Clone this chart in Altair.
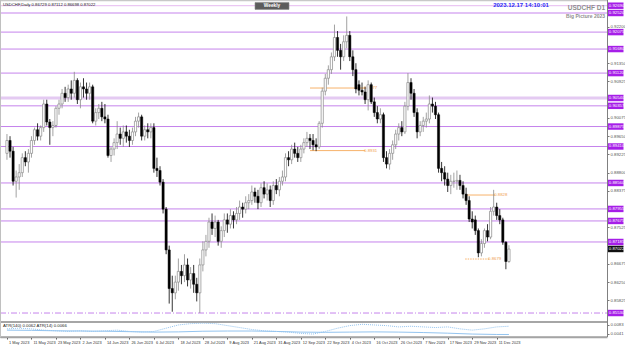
import altair as alt
import pandas as pd

# ---------------- data ----------------
date_tick_idx = [0, 8, 16, 24, 32, 40, 48, 56, 64, 72, 80, 88, 96, 104, 112, 120, 128, 136, 144, 152, 160]
date_tick_labels = ["1 May 2023", "11 May 2023", "23 May 2023", "2 Jun 2023", "14 Jun 2023", "26 Jun 2023",
                    "6 Jul 2023", "18 Jul 2023", "28 Jul 2023", "9 Aug 2023", "21 Aug 2023", "31 Aug 2023",
                    "12 Sep 2023", "22 Sep 2023", "4 Oct 2023", "16 Oct 2023", "26 Oct 2023", "7 Nov 2023",
                    "17 Nov 2023", "29 Nov 2023", "11 Dec 2023"]

opens = [
    .8925, .8955, .8930, .8860, .8870, .8880, .8915, .8905, .8925, .8955,
    .8980, .8965, .8985, .9040, .8998, .8985, .8990, .9030, .9040, .9065,
    .9055, .9075, .9065, .9095, .9050, .9080, .9075, .9065, .9080, .9000,
    .9020, .9030, .9010, .9005, .8920, .8935, .8950, .8970, .8960, .8975,
    .8965, .8955, .8975, .9000, .9010, .8965, .8980, .8975, .8985, .8890,
    .8885, .8858, .8795, .8700, .8610, .8600, .8625, .8650, .8640, .8665,
    .8630, .8645, .8620, .8600, .8665, .8700, .8720, .8765, .8750, .8765,
    .8720, .8745, .8770, .8760, .8780, .8770, .8785, .8800, .8795, .8810,
    .8815, .8835, .8825, .8810, .8845, .8830, .8840, .8815, .8850, .8840,
    .8860, .8870, .8915, .8910, .8935, .8925, .8915, .8935, .8950, .8960,
    .8955, .8945, .8940, .8995, .9070, .9100, .9120, .9150, .9195, .9165,
    .9150, .9185, .9200, .9150, .9120, .9085, .9072, .9068, .9050, .9085,
    .9045, .9020, .9005, .9015, .8915, .8900, .8925, .8945, .8970, .8985,
    .8975, .9035, .9090, .9065, .9020, .8975, .8990, .9000, .9005, .9040,
    .9035, .9015, .8890, .8880, .8865, .8850, .8860, .8860, .8862, .8850,
    .8830, .8815, .8772, .8770, .8745, .8693, .8715, .8745, .8730, .8790,
    .8800, .8780, .8770, .8718, .8673]
highs = [
    .8970, .8965, .8940, .8885, .8900, .8925, .8930, .8935, .8965, .8985,
    .8995, .8990, .9050, .9050, .9005, .9000, .9035, .9050, .9075, .9080,
    .9085, .9095, .9115, .9100, .9090, .9100, .9090, .9090, .9085, .9030,
    .9040, .9045, .9040, .9015, .8940, .8960, .9000, .8985, .8990, .8990,
    .8980, .8985, .9010, .9020, .9015, .8990, .8995, .8995, .8995, .8915,
    .8895, .8865, .8800, .8710, .8640, .8640, .8680, .8665, .8690, .8680,
    .8660, .8665, .8635, .8680, .8720, .8735, .8775, .8785, .8780, .8770,
    .8755, .8785, .8785, .8795, .8790, .8800, .8815, .8810, .8825, .8830,
    .8850, .8845, .8840, .8855, .8860, .8855, .8850, .8860, .8865, .8870,
    .8885, .8925, .8930, .8945, .8950, .8940, .8945, .8960, .8975, .8970,
    .8970, .8960, .9000, .9078, .9110, .9130, .9160, .9225, .9210, .9180,
    .9200, .9244, .9210, .9165, .9135, .9095, .9090, .9080, .9095, .9090,
    .9055, .9035, .9030, .9020, .8930, .8935, .8955, .8980, .8995, .9000,
    .9045, .9112, .9100, .9075, .9030, .9000, .9010, .9020, .9060, .9055,
    .9045, .9020, .8905, .8895, .8880, .8875, .8880, .8885, .8875, .8860,
    .8845, .8825, .8790, .8780, .8750, .8725, .8750, .8760, .8800, .8840,
    .8810, .8795, .8775, .8720, .8711]
lows = [
    .8910, .8915, .8850, .8822, .8840, .8870, .8895, .8880, .8915, .8945,
    .8955, .8955, .8975, .8990, .8945, .8965, .8985, .9015, .9030, .9045,
    .9045, .9050, .9055, .9040, .9030, .9055, .9050, .9050, .8995, .8990,
    .9005, .9000, .8995, .8915, .8905, .8920, .8935, .8945, .8940, .8950,
    .8940, .8945, .8965, .8985, .8955, .8955, .8960, .8960, .8880, .8870,
    .8850, .8785, .8690, .8575, .8556, .8585, .8605, .8620, .8625, .8615,
    .8610, .8600, .8580, .8553, .8650, .8685, .8705, .8735, .8730, .8710,
    .8705, .8730, .8740, .8750, .8750, .8760, .8770, .8775, .8785, .8795,
    .8805, .8810, .8795, .8800, .8820, .8815, .8800, .8805, .8830, .8825,
    .8850, .8860, .8895, .8900, .8915, .8905, .8905, .8925, .8940, .8935,
    .8932, .8930, .8935, .8985, .9060, .9085, .9110, .9140, .9150, .9120,
    .9140, .9170, .9140, .9105, .9065, .9060, .9060, .9040, .9025, .9040,
    .9010, .8995, .8995, .8905, .8890, .8887, .8910, .8935, .8955, .8965,
    .8970, .9025, .9050, .9010, .8960, .8965, .8975, .8985, .8995, .9020,
    .9005, .8880, .8860, .8850, .8835, .8830, .8845, .8840, .8840, .8820,
    .8805, .8765, .8750, .8735, .8683, .8685, .8705, .8720, .8725, .8780,
    .8770, .8760, .8712, .8655, .8670]
closes = [
    .8955, .8930, .8860, .8870, .8880, .8915, .8905, .8925, .8955, .8980,
    .8965, .8985, .9040, .8998, .8985, .8990, .9030, .9040, .9065, .9055,
    .9075, .9065, .9095, .9050, .9080, .9075, .9065, .9080, .9000, .9020,
    .9030, .9010, .9005, .8920, .8935, .8950, .8970, .8960, .8975, .8965,
    .8955, .8975, .9000, .9010, .8965, .8980, .8975, .8985, .8890, .8885,
    .8858, .8795, .8700, .8610, .8600, .8625, .8650, .8640, .8665, .8630,
    .8645, .8620, .8600, .8665, .8700, .8720, .8765, .8750, .8765, .8720,
    .8745, .8770, .8760, .8780, .8770, .8785, .8800, .8795, .8810, .8815,
    .8835, .8825, .8810, .8845, .8830, .8840, .8815, .8850, .8840, .8860,
    .8870, .8915, .8910, .8935, .8925, .8915, .8935, .8950, .8960, .8955,
    .8945, .8940, .8995, .9070, .9100, .9120, .9150, .9195, .9165, .9150,
    .9185, .9200, .9150, .9120, .9075, .9072, .9068, .9050, .9085, .9045,
    .9020, .9005, .9015, .8915, .8900, .8925, .8945, .8970, .8985, .8975,
    .9035, .9090, .9065, .9020, .8975, .8990, .9000, .9005, .9040, .9035,
    .9015, .8890, .8880, .8865, .8850, .8860, .8860, .8862, .8850, .8830,
    .8815, .8772, .8765, .8745, .8693, .8715, .8745, .8730, .8790, .8800,
    .8780, .8770, .8718, .8673, .8702]

level_prices = [0.92690, 0.92520, 0.92075, 0.91680, 0.91120, 0.90540, 0.90357, 0.89875,
                0.89410, 0.88560, 0.87955, 0.87675, 0.87185, 0.85530]
level_kinds = ["light", "normal", "normal", "normal", "normal", "thick", "normal", "normal",
               "normal", "normal", "normal", "normal", "normal", "dashdot"]

price_ticks = [0.92200, 0.91350, 0.90925, 0.90075, 0.89650, 0.89225,
               0.88800, 0.88375, 0.87525, 0.86675, 0.86250, 0.85825]

current_price = [0.87022]

fib_start = [99, 99, 150, 149.7]
fib_end = [117, 117, 159.5, 157.5]
fib_price = [0.90772, 0.89314, 0.88279, 0.86788]
fib_text = ["0.9077", "0.8931", "0.8828", "0.8679"]
fib_dash = ["solid", "solid", "solid", "dot"]

atr14_idx = list(range(0, 165, 4))
atr14_vals = [0.0063, 0.0066, 0.0063, 0.0057, 0.0054, 0.0051, 0.0054, 0.0051, 0.0054, 0.0057,
              0.0051, 0.0048, 0.0051, 0.0066, 0.0081, 0.0087, 0.0089, 0.0087, 0.0078, 0.0069,
              0.0060, 0.0054, 0.0051, 0.0048, 0.0042, 0.0039, 0.0051, 0.0066, 0.0078, 0.0084,
              0.0081, 0.0078, 0.0072, 0.0075, 0.0072, 0.0069, 0.0072, 0.0063, 0.0057, 0.0063,
              0.0072, 0.0075]
atr140_idx = list(range(0, 161, 8)) + [164]
atr140_vals = [0.0057, 0.0056, 0.0054, 0.0053, 0.0052, 0.0050, 0.0048, 0.0049, 0.0052, 0.0053,
               0.0053, 0.0051, 0.0048, 0.0047, 0.0048, 0.0049, 0.0048, 0.0046, 0.0043, 0.0039,
               0.0037, 0.0037]
atr_ticks = [0.0083, 0.0041]

# ---------------- frames ----------------
bars = pd.DataFrame({"i": list(range(len(opens))), "o": opens, "h": highs, "l": lows, "c": closes})
levels = pd.DataFrame({"price": level_prices, "kind": level_kinds})
fibs = pd.DataFrame({"s": fib_start, "e": fib_end, "p": fib_price, "t": fib_text, "d": fib_dash})
atr14 = pd.DataFrame({"i": atr14_idx, "v": atr14_vals})
atr140 = pd.DataFrame({"i": atr140_idx, "v": atr140_vals})
cur = pd.DataFrame({"price": current_price})
one = pd.DataFrame({"a": [0]})

FONT = "Liberation Sans"
LEVEL = "#c583ec"
xscale = alt.Scale(domain=[-0.643, 194.4], nice=False, zero=False)
pscale = alt.Scale(domain=[0.85344, 0.92823], range=[321, 0], nice=False, zero=False)
ascale = alt.Scale(domain=[0.0030, 0.0090], range=[336, 323], nice=False, zero=False)

label_arr = "[" + ",".join("'" + s + "'" for s in date_tick_labels) + "]"
idx_arr = "[" + ",".join(str(v) for v in date_tick_idx) + "]"
xaxis = alt.Axis(values=date_tick_idx, labelExpr=label_arr + "[indexof(" + idx_arr + ", datum.value)]",
                 labelAlign="left", labelFontSize=3.9, labelFont=FONT, labelColor="#333333",
                 labelOffset=1.5, tickSize=2, tickColor="#555555", labelPadding=1.5,
                 domainColor="#a0a0a0", domainWidth=1.5, grid=False, title=None,
                 labelOverlap=False, labelFlush=False)
paxis = alt.Axis(orient="right", values=price_ticks, format=".5f", labelFontSize=4.3, labelFont=FONT,
                 labelColor="#555555", tickSize=2, tickColor="#777777", domain=False, grid=False,
                 title=None, labelPadding=1, labelOverlap=False, labelFlush=False)


def X(field):
    return alt.X(field, scale=xscale, axis=xaxis)


# horizontal levels (x spans the plot through value channels)
def level_layer(kind, color, width, dash=None, axis=None):
    kw = dict(color=color, strokeWidth=width)
    if dash:
        kw["strokeDash"] = dash
    return alt.Chart(levels).transform_filter("datum.kind == '" + kind + "'").mark_rule(**kw).encode(
        x=alt.value(0), x2=alt.value(607), y=alt.Y("price:Q", scale=pscale, axis=axis))


lv_thick = level_layer("thick", "#e4caf2", 3)
lv_light = level_layer("light", "#e6b9f0", 1)
lv_normal = level_layer("normal", LEVEL, 1, axis=paxis)
lv_dd = level_layer("dashdot", LEVEL, 1, dash=[6, 2, 1, 2])

# tags on right
tags = alt.Chart(levels).transform_calculate(
    yt="datum.price + 0.00075", yb="datum.price - 0.00075").mark_rect(color="#a61ee8").encode(
    x=alt.value(608), x2=alt.value(623.5),
    y=alt.Y("yt:Q", scale=pscale, axis=None), y2="yb:Q")
tag_txt = alt.Chart(levels).mark_text(align="left", baseline="middle", fontSize=4.3, font=FONT,
                                      color="white").encode(
    x=alt.value(608.8), y=alt.Y("price:Q", scale=pscale, axis=None),
    text=alt.Text("price:Q", format=".5f"))
cur_tag = alt.Chart(cur).transform_calculate(
    yt="datum.price + 0.00075", yb="datum.price - 0.00075").mark_rect(color="#111111").encode(
    x=alt.value(608), x2=alt.value(623.5),
    y=alt.Y("yt:Q", scale=pscale, axis=None), y2="yb:Q")
cur_txt = alt.Chart(cur).mark_text(align="left", baseline="middle", fontSize=4.3, font=FONT,
                                   color="white").encode(
    x=alt.value(608.8), y=alt.Y("price:Q", scale=pscale, axis=None),
    text=alt.Text("price:Q", format=".5f"))

# orange levels
fib_solid = alt.Chart(fibs).transform_filter("datum.d == 'solid'").mark_rule(
    color="#f7b26b", strokeWidth=1).encode(
    x=X("s:Q"), x2="e:Q", y=alt.Y("p:Q", scale=pscale, axis=None))
fib_dot = alt.Chart(fibs).transform_filter("datum.d == 'dot'").mark_rule(
    color="#f7b26b", strokeWidth=1, strokeDash=[1.5, 1]).encode(
    x=X("s:Q"), x2="e:Q", y=alt.Y("p:Q", scale=pscale, axis=None))
fib_txt = alt.Chart(fibs).mark_text(align="left", baseline="middle", fontSize=4.3, font=FONT,
                                    color="#f0a050", dx=-1).encode(
    x=X("e:Q"), y=alt.Y("p:Q", scale=pscale, axis=None), text="t:N")

# candles
wick_up = alt.Chart(bars).transform_filter("datum.c >= datum.o").mark_rule(
    color="#8a8a8a", strokeWidth=0.8).encode(
    x=X("i:Q"), y=alt.Y("l:Q", scale=pscale, axis=None), y2="h:Q")
wick_dn = alt.Chart(bars).transform_filter("datum.c < datum.o").mark_rule(
    color="#000000", strokeWidth=0.8).encode(
    x=X("i:Q"), y=alt.Y("l:Q", scale=pscale, axis=None), y2="h:Q")
body_up = alt.Chart(bars).transform_filter("datum.c >= datum.o").mark_bar(
    size=2.2, fill="white", stroke="#8a8a8a", strokeWidth=0.7).encode(
    x=X("i:Q"), y=alt.Y("o:Q", scale=pscale, axis=None), y2="c:Q")
body_dn = alt.Chart(bars).transform_filter("datum.c < datum.o").mark_bar(
    size=2.2, fill="black", stroke="black", strokeWidth=0.5).encode(
    x=X("i:Q"), y=alt.Y("o:Q", scale=pscale, axis=None), y2="c:Q")

# indicator panel
atr_axis = alt.Axis(orient="right", values=atr_ticks, format=".4f", labelFontSize=4.3, labelFont=FONT,
                    labelColor="#555555", tickSize=2, tickColor="#777777", domain=False, grid=False,
                    title=None, labelPadding=1, labelOverlap=False, labelFlush=False)
atr_slow = alt.Chart(atr140).mark_line(color="#94c4ef", strokeWidth=1).encode(
    x=X("i:Q"), y=alt.Y("v:Q", scale=ascale, axis=atr_axis))
atr_fast = alt.Chart(atr14).mark_line(color="#94c4ef", strokeWidth=1, strokeDash=[1, 1]).encode(
    x=X("i:Q"), y=alt.Y("v:Q", scale=ascale, axis=None))
atr_txt = alt.Chart(one).mark_text(align="left", baseline="middle", fontSize=4.3, font=FONT,
                                   color="#222222", text="ATR(140) 0.0062  ATR(14) 0.0066").encode(
    x=alt.value(3), y=alt.value(326))

# frame lines
sep = alt.Chart(one).mark_rule(color="#a6a6a6", strokeWidth=2).encode(
    x=alt.value(0), x2=alt.value(607), y=alt.value(322))
bottomline = alt.Chart(one).mark_rule(color="#a6a6a6", strokeWidth=1.5).encode(
    x=alt.value(0), x2=alt.value(607), y=alt.value(337))
topline = alt.Chart(one).mark_rule(color="#c8c8c8", strokeWidth=1.5).encode(
    x=alt.value(0), x2=alt.value(607), y=alt.value(0.5))
rightline = alt.Chart(one).mark_rule(color="#808080", strokeWidth=1).encode(
    x=alt.value(607.5), y=alt.value(0), y2=alt.value(337))
leftline = alt.Chart(one).mark_rule(color="#c0c0c0", strokeWidth=1).encode(
    x=alt.value(0.5), y=alt.value(0), y2=alt.value(337))

# header texts
ticker = alt.Chart(one).mark_text(align="left", baseline="middle", fontSize=4.2, font=FONT,
                                  color="#222222",
                                  text="USDCHF,Daily  0.86729 0.87112 0.86698 0.87022").encode(
    x=alt.value(3), y=alt.value(4.8))
btn = alt.Chart(one).mark_rect(fill="#5c5c5c", stroke="#8a8a8a", strokeWidth=0.6).encode(
    x=alt.value(255), x2=alt.value(289), y=alt.value(2.6), y2=alt.value(9.4))
btn_txt = alt.Chart(one).mark_text(align="center", baseline="middle", fontSize=4.8, font=FONT,
                                   fontWeight="bold", color="white", text="Weekly").encode(
    x=alt.value(272), y=alt.value(6.1))
stamp = alt.Chart(one).mark_text(align="center", baseline="middle", fontSize=6, font=FONT,
                                 fontWeight="bold", color="#2c2cf5", text="2023.12.17 14:10:01").encode(
    x=alt.value(521), y=alt.value(5.2))
sym = alt.Chart(one).mark_text(align="right", baseline="middle", fontSize=6.5, font=FONT,
                               fontWeight="bold", color="#8f8f8f", text="USDCHF D1").encode(
    x=alt.value(605), y=alt.value(8.3))
sub = alt.Chart(one).mark_text(align="right", baseline="middle", fontSize=5, font=FONT,
                               fontWeight="bold", color="#8f8f8f", text="Big Picture 2023").encode(
    x=alt.value(605), y=alt.value(16))

chart = alt.layer(
    topline, lv_thick, lv_light, lv_normal, lv_dd,
    fib_solid, fib_dot, fib_txt,
    wick_up, wick_dn, body_up, body_dn,
    sep, bottomline, atr_slow, atr_fast, atr_txt,
    rightline, leftline,
    tags, tag_txt, cur_tag, cur_txt,
    ticker, btn, btn_txt, stamp, sym, sub,
).resolve_scale(y="independent").properties(
    width=607, height=337, autosize="none",
    padding={"left": 0, "top": 0, "right": 18, "bottom": 9},
    background="white",
).configure_view(stroke=None)

chart.save("out.html", embed_options={"renderer": "svg", "actions": False})
